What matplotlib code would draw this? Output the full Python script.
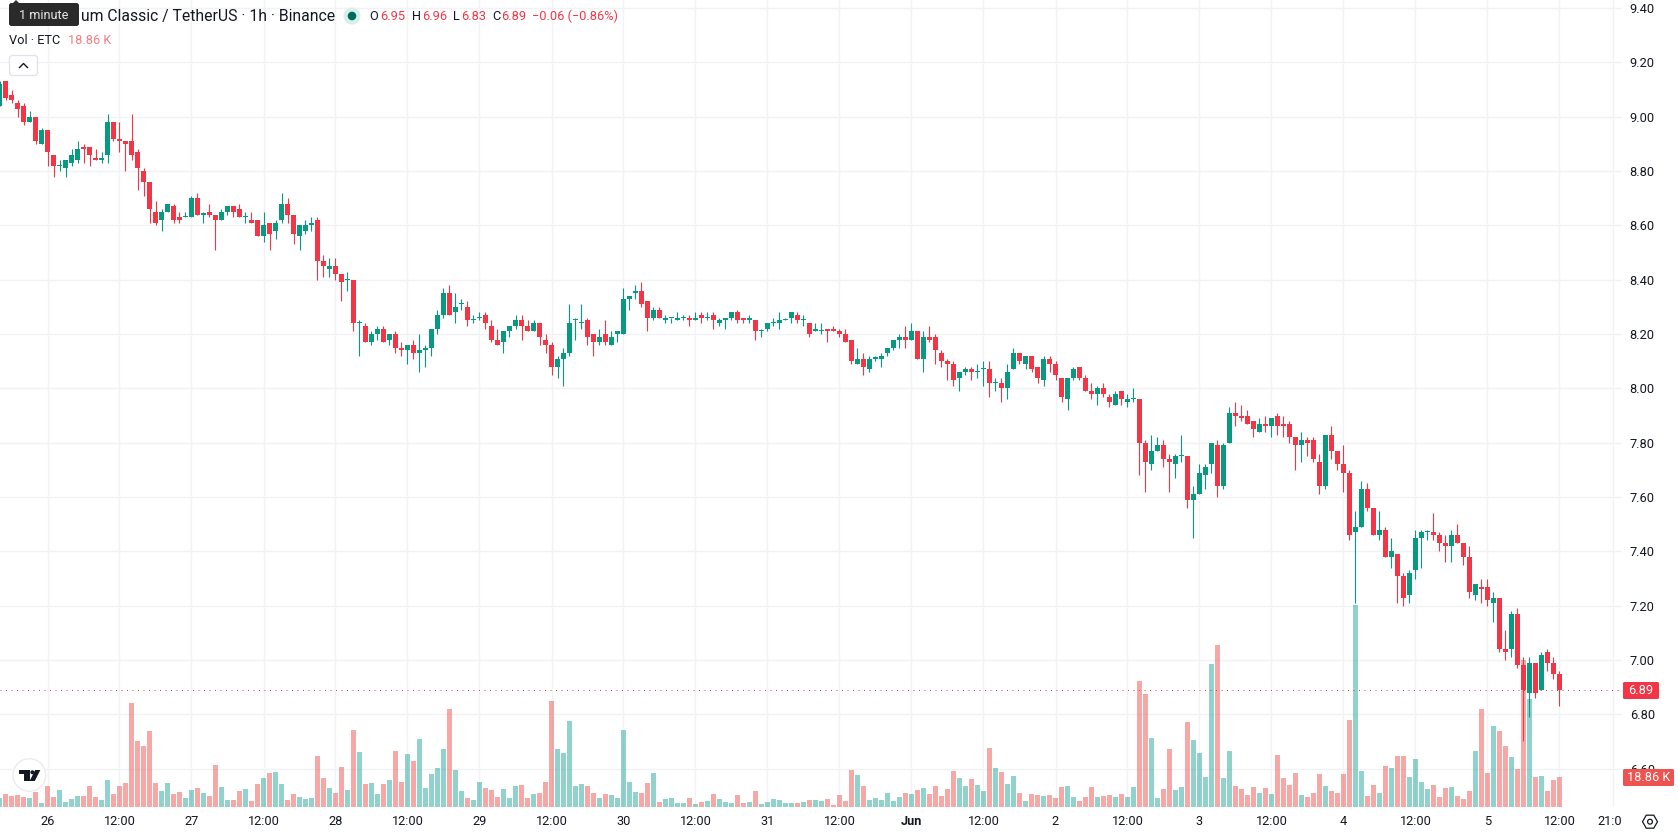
import numpy as np
import matplotlib
matplotlib.use("Agg")
import matplotlib.pyplot as plt
from matplotlib.patches import Circle, FancyBboxPatch, Polygon, RegularPolygon
from matplotlib.transforms import Bbox

# ETC/USDT hourly candles, 25 May 16:00 to 5 Jun 12:00
opens = [
    9.04, 9.13, 9.08, 9.05, 9.04, 8.98, 9.00, 8.90, 8.95, 8.86,
    8.82, 8.81, 8.83, 8.84, 8.89, 8.89, 8.85, 8.84, 8.86, 8.98,
    8.92, 8.91, 8.91, 8.87, 8.80, 8.76, 8.65, 8.62, 8.65, 8.67,
    8.63, 8.63, 8.63, 8.70, 8.64, 8.65, 8.64, 8.62, 8.65, 8.67,
    8.66, 8.63, 8.62, 8.62, 8.56, 8.61, 8.58, 8.62, 8.68, 8.64,
    8.56, 8.58, 8.60, 8.62, 8.47, 8.44, 8.45, 8.42, 8.40, 8.40,
    8.24, 8.23, 8.17, 8.20, 8.22, 8.18, 8.20, 8.15, 8.14, 8.16,
    8.13, 8.14, 8.15, 8.22, 8.27, 8.35, 8.28, 8.31, 8.30, 8.25,
    8.26, 8.27, 8.23, 8.18, 8.17, 8.21, 8.23, 8.25, 8.23, 8.21,
    8.24, 8.18, 8.16, 8.08, 8.11, 8.13, 8.25, 8.24, 8.25, 8.20,
    8.17, 8.20, 8.16, 8.20, 8.20, 8.33, 8.35, 8.36, 8.32, 8.26,
    8.29, 8.25, 8.26, 8.25, 8.26, 8.26, 8.25, 8.27, 8.26, 8.27,
    8.24, 8.25, 8.26, 8.28, 8.26, 8.25, 8.25, 8.21, 8.22, 8.24,
    8.24, 8.25, 8.26, 8.27, 8.25, 8.24, 8.21, 8.21, 8.22, 8.22,
    8.21, 8.20, 8.18, 8.09, 8.11, 8.07, 8.11, 8.11, 8.13, 8.15,
    8.18, 8.19, 8.18, 8.21, 8.11, 8.19, 8.19, 8.13, 8.10, 8.09,
    8.04, 8.06, 8.07, 8.06, 8.07, 8.07, 8.02, 8.02, 8.00, 8.07,
    8.13, 8.09, 8.12, 8.08, 8.03, 8.11, 8.09, 8.04, 7.96, 8.04,
    8.08, 8.04, 7.99, 7.98, 8.00, 7.97, 7.94, 7.99, 7.95, 7.96,
    7.96, 7.80, 7.72, 7.77, 7.79, 7.74, 7.72, 7.75, 7.75, 7.59,
    7.61, 7.68, 7.72, 7.79, 7.64, 7.80, 7.91, 7.90, 7.90, 7.88,
    7.84, 7.87, 7.86, 7.90, 7.87, 7.87, 7.82, 7.79, 7.81, 7.81,
    7.73, 7.64, 7.83, 7.77, 7.72, 7.69, 7.47, 7.49, 7.63, 7.56,
    7.46, 7.48, 7.38, 7.39, 7.31, 7.24, 7.33, 7.45, 7.47, 7.47,
    7.46, 7.43, 7.42, 7.46, 7.43, 7.38, 7.24, 7.27, 7.27, 7.21,
    7.23, 7.04, 7.04, 7.17, 6.98, 6.88, 6.99, 6.89, 7.03, 6.99, 6.95,
]
highs = [
    9.13, 9.13, 9.10, 9.06, 9.05, 9.02, 9.00, 8.96, 8.95, 8.86,
    8.84, 8.84, 8.88, 8.91, 8.90, 8.89, 8.88, 8.87, 9.01, 8.98,
    8.98, 8.91, 9.01, 8.88, 8.81, 8.76, 8.69, 8.66, 8.68, 8.68,
    8.65, 8.65, 8.71, 8.72, 8.65, 8.68, 8.64, 8.66, 8.67, 8.67,
    8.68, 8.65, 8.65, 8.62, 8.65, 8.61, 8.62, 8.72, 8.70, 8.64,
    8.60, 8.62, 8.63, 8.63, 8.49, 8.48, 8.48, 8.42, 8.43, 8.40,
    8.25, 8.24, 8.21, 8.23, 8.23, 8.20, 8.21, 8.17, 8.16, 8.18,
    8.20, 8.16, 8.22, 8.29, 8.37, 8.38, 8.35, 8.33, 8.32, 8.27,
    8.28, 8.28, 8.25, 8.22, 8.21, 8.23, 8.27, 8.27, 8.25, 8.25,
    8.24, 8.20, 8.17, 8.12, 8.15, 8.31, 8.26, 8.31, 8.26, 8.20,
    8.22, 8.25, 8.21, 8.21, 8.37, 8.34, 8.38, 8.39, 8.32, 8.30,
    8.30, 8.27, 8.26, 8.28, 8.27, 8.27, 8.28, 8.28, 8.28, 8.28,
    8.26, 8.26, 8.28, 8.29, 8.26, 8.27, 8.25, 8.22, 8.24, 8.26,
    8.28, 8.26, 8.28, 8.28, 8.27, 8.24, 8.24, 8.24, 8.22, 8.23,
    8.22, 8.22, 8.18, 8.15, 8.13, 8.12, 8.12, 8.13, 8.15, 8.18,
    8.20, 8.23, 8.24, 8.21, 8.21, 8.23, 8.20, 8.14, 8.11, 8.10,
    8.06, 8.08, 8.08, 8.09, 8.10, 8.10, 8.04, 8.04, 8.09, 8.15,
    8.13, 8.12, 8.12, 8.08, 8.12, 8.12, 8.10, 8.04, 8.04, 8.08,
    8.08, 8.05, 8.02, 8.01, 8.02, 7.98, 7.99, 7.99, 7.98, 8.00,
    7.96, 7.81, 7.83, 7.82, 7.81, 7.76, 7.76, 7.83, 7.75, 7.64,
    7.72, 7.72, 7.80, 7.81, 7.80, 7.93, 7.95, 7.94, 7.92, 7.88,
    7.89, 7.90, 7.89, 7.91, 7.90, 7.88, 7.82, 7.84, 7.82, 7.82,
    7.76, 7.83, 7.86, 7.77, 7.79, 7.70, 7.55, 7.66, 7.65, 7.56,
    7.55, 7.49, 7.45, 7.39, 7.32, 7.33, 7.48, 7.48, 7.48, 7.54,
    7.47, 7.46, 7.48, 7.50, 7.43, 7.42, 7.28, 7.30, 7.30, 7.25,
    7.23, 7.11, 7.18, 7.19, 7.01, 7.01, 6.99, 7.03, 7.04, 7.01, 6.96,
]
lows = [
    9.04, 9.06, 9.05, 9.00, 8.97, 8.98, 8.90, 8.90, 8.82, 8.78,
    8.80, 8.78, 8.82, 8.83, 8.83, 8.82, 8.84, 8.83, 8.83, 8.91,
    8.87, 8.80, 8.84, 8.73, 8.71, 8.61, 8.60, 8.58, 8.65, 8.61,
    8.61, 8.63, 8.63, 8.64, 8.61, 8.63, 8.51, 8.62, 8.64, 8.63,
    8.63, 8.61, 8.61, 8.56, 8.54, 8.51, 8.55, 8.61, 8.61, 8.53,
    8.51, 8.57, 8.58, 8.40, 8.41, 8.41, 8.40, 8.32, 8.36, 8.21,
    8.12, 8.17, 8.16, 8.18, 8.17, 8.16, 8.13, 8.12, 8.09, 8.11,
    8.06, 8.08, 8.12, 8.20, 8.26, 8.27, 8.24, 8.29, 8.23, 8.24,
    8.25, 8.22, 8.17, 8.16, 8.13, 8.19, 8.22, 8.18, 8.21, 8.21,
    8.16, 8.13, 8.05, 8.04, 8.01, 8.12, 8.18, 8.22, 8.16, 8.12,
    8.16, 8.16, 8.16, 8.17, 8.20, 8.29, 8.33, 8.30, 8.21, 8.25,
    8.26, 8.24, 8.24, 8.25, 8.25, 8.23, 8.25, 8.24, 8.25, 8.22,
    8.23, 8.22, 8.25, 8.24, 8.24, 8.24, 8.18, 8.19, 8.21, 8.23,
    8.22, 8.25, 8.24, 8.24, 8.23, 8.19, 8.21, 8.20, 8.17, 8.21,
    8.19, 8.17, 8.09, 8.09, 8.05, 8.06, 8.10, 8.08, 8.12, 8.14,
    8.15, 8.15, 8.18, 8.11, 8.06, 8.17, 8.09, 8.08, 8.03, 8.01,
    7.99, 8.05, 8.03, 8.04, 8.01, 7.97, 7.99, 7.95, 7.96, 8.07,
    8.09, 8.07, 8.06, 8.02, 8.01, 8.06, 8.03, 7.95, 7.92, 8.03,
    8.03, 7.99, 7.96, 7.94, 7.97, 7.93, 7.94, 7.94, 7.93, 7.95,
    7.68, 7.62, 7.70, 7.77, 7.71, 7.62, 7.67, 7.73, 7.56, 7.45,
    7.61, 7.63, 7.69, 7.60, 7.63, 7.80, 7.86, 7.88, 7.87, 7.82,
    7.84, 7.84, 7.82, 7.83, 7.82, 7.80, 7.70, 7.73, 7.75, 7.73,
    7.61, 7.63, 7.74, 7.70, 7.62, 7.44, 7.21, 7.49, 7.55, 7.46,
    7.44, 7.38, 7.34, 7.21, 7.20, 7.21, 7.30, 7.34, 7.44, 7.44,
    7.40, 7.36, 7.36, 7.43, 7.35, 7.23, 7.22, 7.21, 7.20, 7.14,
    7.03, 7.00, 7.01, 6.97, 6.70, 6.79, 6.86, 6.89, 6.96, 6.93, 6.83,
]
closes = [
    9.12, 9.07, 9.06, 9.03, 8.98, 9.00, 8.91, 8.95, 8.87, 8.82,
    8.82, 8.84, 8.86, 8.88, 8.88, 8.86, 8.84, 8.85, 8.98, 8.92,
    8.91, 8.90, 8.86, 8.81, 8.76, 8.66, 8.61, 8.65, 8.68, 8.62,
    8.62, 8.63, 8.70, 8.64, 8.64, 8.64, 8.62, 8.65, 8.67, 8.65,
    8.63, 8.63, 8.61, 8.56, 8.60, 8.57, 8.61, 8.68, 8.64, 8.57,
    8.60, 8.60, 8.61, 8.47, 8.45, 8.45, 8.42, 8.39, 8.40, 8.24,
    8.24, 8.17, 8.20, 8.22, 8.17, 8.20, 8.15, 8.14, 8.16, 8.13,
    8.14, 8.15, 8.22, 8.27, 8.35, 8.27, 8.30, 8.31, 8.25, 8.25,
    8.26, 8.24, 8.18, 8.16, 8.21, 8.23, 8.25, 8.23, 8.21, 8.24,
    8.19, 8.16, 8.08, 8.11, 8.13, 8.24, 8.25, 8.24, 8.19, 8.17,
    8.19, 8.17, 8.19, 8.21, 8.33, 8.34, 8.36, 8.31, 8.26, 8.29,
    8.26, 8.26, 8.26, 8.26, 8.26, 8.25, 8.26, 8.26, 8.26, 8.25,
    8.25, 8.26, 8.28, 8.25, 8.25, 8.26, 8.21, 8.21, 8.24, 8.24,
    8.25, 8.25, 8.28, 8.25, 8.25, 8.20, 8.22, 8.21, 8.21, 8.21,
    8.20, 8.17, 8.10, 8.11, 8.08, 8.11, 8.11, 8.12, 8.15, 8.18,
    8.19, 8.18, 8.21, 8.11, 8.19, 8.18, 8.14, 8.10, 8.09, 8.03,
    8.06, 8.07, 8.06, 8.06, 8.07, 8.02, 8.02, 8.00, 8.06, 8.13,
    8.10, 8.12, 8.07, 8.04, 8.11, 8.09, 8.05, 7.97, 8.04, 8.07,
    8.04, 7.99, 7.98, 8.00, 7.98, 7.95, 7.98, 7.96, 7.96, 7.96,
    7.80, 7.73, 7.77, 7.79, 7.74, 7.73, 7.75, 7.75, 7.59, 7.61,
    7.69, 7.71, 7.80, 7.64, 7.79, 7.91, 7.90, 7.89, 7.87, 7.85,
    7.87, 7.86, 7.89, 7.86, 7.86, 7.82, 7.79, 7.81, 7.80, 7.74,
    7.64, 7.83, 7.77, 7.72, 7.69, 7.46, 7.49, 7.63, 7.56, 7.46,
    7.48, 7.38, 7.40, 7.31, 7.23, 7.32, 7.45, 7.47, 7.47, 7.46,
    7.43, 7.42, 7.46, 7.43, 7.38, 7.25, 7.28, 7.26, 7.22, 7.23,
    7.04, 7.03, 7.17, 6.98, 6.89, 6.99, 6.88, 7.02, 6.99, 6.95, 6.89,
]
# volume in thousands of ETC
volumes = [
    5.7, 8.2, 6.9, 7.5, 6.3, 5.7, 9.4, 2.5,
    13.2, 6.3, 10.7, 3.1, 5.0, 6.9, 6.9, 13.2, 6.3, 4.4, 17.0, 8.2,
    13.2, 15.1, 65.4, 41.5, 38.4, 47.8, 15.1, 10.1, 15.1, 8.2,
    9.4, 5.7, 10.7, 11.9, 8.8, 6.9, 26.4, 12.6, 4.4, 4.4,
    10.1, 11.3, 3.8, 14.5, 18.2, 21.4, 22.0, 14.5, 4.4, 8.2,
    6.3, 5.0, 5.7, 32.1, 18.2, 11.9, 8.8, 25.2, 10.7, 48.4,
    34.6, 14.5, 15.1, 8.2, 14.5, 17.0, 35.2, 15.7, 33.3, 28.9,
    42.8, 11.9, 20.8, 24.5, 36.5, 61.6,
    23.3, 10.1, 5.7, 4.4, 15.7, 11.9, 10.7, 6.3, 11.3, 5.7,
    13.2, 13.8, 5.7, 8.2, 8.8, 15.7, 66.7, 36.5, 34.0, 54.1,
    13.2, 14.5, 13.2, 8.8, 5.7, 8.2, 7.5, 5.7, 48.4, 15.7,
    9.4, 8.8, 15.1, 21.4, 3.1, 5.0, 5.7, 2.5, 2.5, 5.7,
    1.9, 3.1, 3.8, 8.2, 5.0, 3.1, 2.5, 7.5, 2.5, 3.1,
    10.1, 1.9, 3.1, 5.0, 4.4, 2.5, 2.5, 2.5, 3.1, 4.4,
    4.4, 3.8, 5.0, 1.3, 7.5, 3.8, 23.3, 20.1, 13.2, 4.4,
    5.7, 4.4, 8.8,
    3.8, 6.3, 8.8, 8.2, 10.7, 11.9, 8.2, 13.2, 6.9, 11.3,
    22.6, 18.2, 13.2, 17.6, 13.8, 10.1, 37.1, 24.5, 22.0, 14.5,
    19.5, 8.8, 3.8, 8.2, 7.5, 6.9, 7.5, 5.7, 12.6, 13.2,
    6.3, 3.8, 6.3, 12.6, 6.3, 6.9, 7.5, 6.3, 8.2, 6.3,
    12.6, 79.2, 71.1, 43.4, 5.7, 11.3, 36.5, 10.7, 12.6, 53.4,
    42.1, 34.0, 18.9, 89.9, 101.9, 18.2, 35.2, 13.2, 11.3, 7.5,
    12.6, 8.8, 11.9, 8.2, 32.7, 18.2, 13.8, 21.4, 7.5, 6.3,
    8.8, 20.8, 13.2,
    10.1, 8.8, 20.8, 54.7, 127.0, 22.6, 6.9, 13.8, 8.8, 25.8,
    24.5, 32.1, 32.1, 18.9, 30.2, 15.7, 11.3, 13.8, 6.3, 11.9,
    12.6, 6.9, 5.0, 10.1, 35.2, 61.6, 21.4, 50.9, 47.8, 38.4,
    31.4, 23.9, 92.4, 67.9, 18.9, 19.5, 10.1, 17.0, 18.86,
]

# hours relative to 26 May 00:00
time_ticks = [0, 12, 24, 36, 48, 60, 72, 84, 96, 108, 120, 132, 144,
              156, 168, 180, 192, 204, 216, 228, 240, 252, 261]
time_labels = ["26", "12:00", "27", "12:00", "28", "12:00", "29", "12:00", "30",
               "12:00", "31", "12:00", "Jun", "12:00", "2", "12:00", "3", "12:00",
               "4", "12:00", "5", "12:00", "21:00"]
price_ticks = [9.40, 9.20, 9.00, 8.80, 8.60, 8.40, 8.20, 8.00,
               7.80, 7.60, 7.40, 7.20, 7.00, 6.80, 6.60]
last_price = 6.89
last_volume = "18.86 K"

UP = "#089981"
DOWN = "#f23645"
VOL_UP = "#26a69a"
VOL_DOWN = "#ef5350"
GRID = "#f0f2f6"
TEXT = "#131722"

W, H = 1678, 835
FONT = "Roboto"
plt.rcParams["font.family"] = FONT


def main():
    fig = plt.figure(figsize=(W / 100, H / 100), dpi=100, facecolor="white")
    rect = [0, (H - 807) / H, 1622 / W, 807 / H]
    # three layers: grid and ticks, volume, candles
    ax_bg = fig.add_axes(rect, zorder=1)
    ax_vol = fig.add_axes(rect, zorder=2)
    ax = fig.add_axes(rect, zorder=3)
    ax_top = fig.add_axes([0, 0, 1, 1], zorder=4)

    xlim = (-47.5 / 6, (1622 - 47.5) / 6)
    ylim = (6.4588, 9.43)
    for a in (ax_bg, ax):
        a.set_xlim(*xlim)
        a.set_ylim(*ylim)
    ax_vol.set_xlim(*xlim)
    ax_vol.set_ylim(0, 507.4)
    for a in (ax_vol, ax):
        a.axis("off")
        a.patch.set_alpha(0)

    o = np.array(opens)
    h = np.array(highs)
    l = np.array(lows)
    c = np.array(closes)
    v = np.array(volumes)
    t = np.arange(len(c)) - 8
    up = c >= o

    ax_bg.set_xticks(time_ticks)
    ax_bg.set_xticklabels(time_labels)
    ax_bg.set_yticks(price_ticks)
    ax_bg.set_yticklabels([f"{p:.2f}" for p in price_ticks])
    ax_bg.yaxis.tick_right()
    ax_bg.tick_params(axis="both", length=0, labelsize=9.2, labelcolor=TEXT)
    ax_bg.tick_params(axis="y", pad=5.5)
    ax_bg.tick_params(axis="x", pad=5.5)
    ax_bg.grid(True, color=GRID, linewidth=1)
    ax_bg.set_axisbelow(True)
    for s in ax_bg.spines.values():
        s.set_visible(False)
    for lab in ax_bg.get_xticklabels():
        if lab.get_text() == "Jun":
            lab.set_fontweight("bold")
        if lab.get_text() == "21:00":
            lab.set_clip_on(True)
            lab.set_clip_box(Bbox([[0, 0], [1622, H]]))

    # volume bars
    ax_vol.bar(t[up], v[up], width=5 / 6, color=VOL_UP, alpha=0.5, linewidth=0)
    ax_vol.bar(t[~up], v[~up], width=5 / 6, color=VOL_DOWN, alpha=0.5, linewidth=0)

    # candles
    colors = np.where(up, UP, DOWN)
    ax.vlines(t, l, h, colors=colors, linewidth=0.8)
    body = np.maximum(np.abs(c - o), 0.004)
    ax.bar(t, body, bottom=np.minimum(o, c), width=5 / 6, color=colors, linewidth=0)
    ax.axhline(last_price, color=DOWN, linewidth=0.72, linestyle=(0, (1, 4.5)))

    # everything below is placed in pixels
    ax_top.set_xlim(0, W)
    ax_top.set_ylim(H, 0)
    ax_top.axis("off")
    ax_top.patch.set_alpha(0)

    def label(x, y, s, color=TEXT, size=9.2, ha="left", **kw):
        ax_top.text(x, y, s, color=color, fontsize=size, ha=ha, va="center", **kw)

    def tag(x, y, w, h, color):
        ax_top.add_patch(FancyBboxPatch((x, y), w, h, boxstyle="round,pad=0,rounding_size=1.5",
                                        facecolor=color, edgecolor="none"))

    # legend rows
    label(81, 16, "um Classic / TetherUS · 1h · Binance", size=11.3)
    ax_top.add_patch(Polygon([(11, 5), (16, 0), (21, 5)], facecolor="#2a2a2a", edgecolor="none"))
    ax_top.add_patch(FancyBboxPatch((9, 3), 70, 23, boxstyle="round,pad=0,rounding_size=2.5",
                                    facecolor="#2a2a2a", edgecolor="none"))
    label(44, 15.5, "1 minute", color="#e6e6e6", size=9.2, ha="center")
    ax_top.add_patch(Circle((352, 16), 8.5, facecolor="#d8efeb", edgecolor="none"))
    ax_top.add_patch(Circle((352, 16), 4.3, facecolor="#006b58", edgecolor="none"))
    for x, letter, x2, val in [(369, "O", 380, "6.95"), (412, "H", 422, "6.96"),
                               (453, "L", 461, "6.83"), (492, "C", 501, "6.89")]:
        label(x, 16, letter, size=9.2)
        label(x2, 16, val, color=DOWN, size=9.2)
    label(532, 16, "−0.06 (−0.86%)", color=DOWN, size=9.2)
    label(9, 41, "Vol · ETC", size=9.2)
    label(68, 41, "18.86 K", color="#f77c80", size=9.2)

    # collapse button
    ax_top.add_patch(FancyBboxPatch((9.5, 55.5), 28, 20, boxstyle="round,pad=0,rounding_size=3",
                                    facecolor="white", edgecolor="#e0e3eb", linewidth=0.9))
    ax_top.plot([19.5, 23.5, 27.5], [67.5, 63.5, 67.5], color=TEXT, linewidth=1.0)

    # last price and last volume tags
    tag(1623, 682, 36, 17, DOWN)
    label(1641, 690.5, f"{last_price:.2f}", color="white", ha="center")
    tag(1623, 769, 51, 17, "#ef5350")
    label(1648.5, 777.5, last_volume, color="white", ha="center")

    # logo badge
    ax_top.add_patch(Circle((29.3, 775), 16.3, facecolor="white", edgecolor="#eaecef", linewidth=1))
    ax_top.add_patch(Polygon([(19, 770), (29.5, 770), (29.5, 781), (24, 781), (24, 774.3), (19, 774.3)],
                             facecolor="#131722", edgecolor="none"))
    ax_top.add_patch(Circle((32.4, 772.3), 2.0, facecolor="#131722", edgecolor="none"))
    ax_top.add_patch(Polygon([(35.2, 770), (40.3, 770), (34.8, 781), (29.6, 781)],
                             facecolor="#131722", edgecolor="none"))

    # settings icon in the corner
    ax_top.add_patch(RegularPolygon((1650, 821.7), 6, radius=7.5, orientation=np.pi / 2,
                                    facecolor="white", edgecolor=TEXT, linewidth=0.9))
    ax_top.add_patch(Circle((1650, 821.7), 2.4, facecolor="white", edgecolor=TEXT, linewidth=0.9))

    fig.savefig("out.png", dpi=100)


if __name__ == "__main__":
    main()
